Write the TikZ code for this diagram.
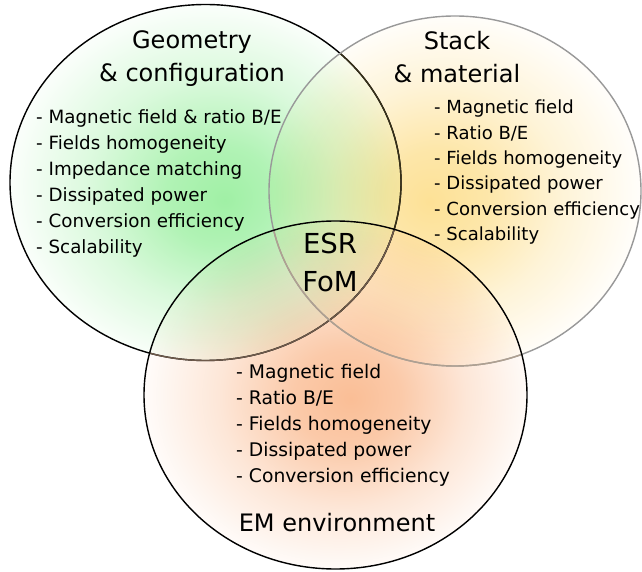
\documentclass[tikz,border=0pt]{standalone}
\usepackage{fontspec}
\setmainfont{DejaVu Sans}

\definecolor{glowgreen}{RGB}{160,240,165}
\definecolor{glowyellow}{RGB}{253,225,150}
\definecolor{glowpeach}{RGB}{250,190,150}
\definecolor{rimolive}{RGB}{55,48,25}
\definecolor{rimbrown}{RGB}{110,90,75}
\definecolor{rimtan}{RGB}{175,160,145}

% path edge sits at 25bp
\pgfdeclareradialshading{greenglow}{\pgfpoint{2.5bp}{-2.5bp}}{color(0bp)=(glowgreen); color(7bp)=(glowgreen!82!white); color(16bp)=(glowgreen!38!white); color(25bp)=(glowgreen!6!white); color(30bp)=(white)}
\pgfdeclareradialshading{yellowglow}{\pgfpoint{-3.5bp}{-1.5bp}}{color(0bp)=(glowyellow); color(7bp)=(glowyellow!82!white); color(16bp)=(glowyellow!38!white); color(25bp)=(glowyellow!6!white); color(30bp)=(white)}
\pgfdeclareradialshading{peachglow}{\pgfpoint{2bp}{-0.5bp}}{color(0bp)=(glowpeach); color(7bp)=(glowpeach!82!white); color(16bp)=(glowpeach!38!white); color(25bp)=(glowpeach!6!white); color(30bp)=(white)}

\begin{document}
\begin{tikzpicture}[x=0.03cm,y=-0.03cm,
  rim/.style={line width=1.2pt},
  title/.style={align=center, anchor=north, inner sep=0pt, font=\fontsize{20.5pt}{28.2pt}\selectfont},
  items/.style={align=left, anchor=north west, inner sep=0pt, font=\fontsize{15.6pt}{22.2pt}\selectfont}]

\useasboundingbox (0,0) rectangle (642,572);

\def\geoset{(205.5,182.5) ellipse [x radius=195.5, y radius=178]}
\def\stackset{(455,191) ellipse [x radius=186, y radius=175]}
\def\emset{(335.5,395) ellipse [x radius=191.5, y radius=174]}

% soft fills
\begin{scope}[blend mode=multiply]
\shade[shading=greenglow] \geoset;
\shade[shading=yellowglow] \stackset;
\shade[shading=peachglow] \emset;
\end{scope}

% outlines, tinted where a later set lies over them
\draw[rim] \geoset;
\begin{scope}
\clip \stackset;
\draw[rim, rimolive] \geoset;
\end{scope}
\draw[rim, black!40] \stackset;
\begin{scope}
\clip \emset;
\draw[rim, rimbrown] \geoset;
\draw[rim, rimtan] \stackset;
\end{scope}
\draw[rim] \emset;

% texts
\node[title] (geotitle) at (192,30) {Geometry\\\& configuration};
\node[items] (geolist) at (36,109) {- Magnetic field \& ratio B/E\\- Fields homogeneity\\- Impedance matching\\- Dissipated power\\- Conversion efficiency\\- Scalability};

\node[title] (stacktitle) at (457,31) {Stack\\\& material};
\node[items, font=\fontsize{15.4pt}{21.6pt}\selectfont] (stacklist) at (434,100) {- Magnetic field\\- Ratio B/E\\- Fields homogeneity\\- Dissipated power\\- Conversion efficiency\\- Scalability};

\node[align=center, anchor=north, inner sep=0pt, font=\fontsize{23.5pt}{32.4pt}\selectfont] (esr) at (330,233) {ESR\\FoM};

\node[items, font=\fontsize{16pt}{22.2pt}\selectfont] (emlist) at (236,364) {- Magnetic field\\- Ratio B/E\\- Fields homogeneity\\- Dissipated power\\- Conversion efficiency};
\node[anchor=base, inner sep=0pt, font=\fontsize{20.5pt}{28.2pt}\selectfont] (emtitle) at (337,531) {EM environment};

\end{tikzpicture}
\end{document}
